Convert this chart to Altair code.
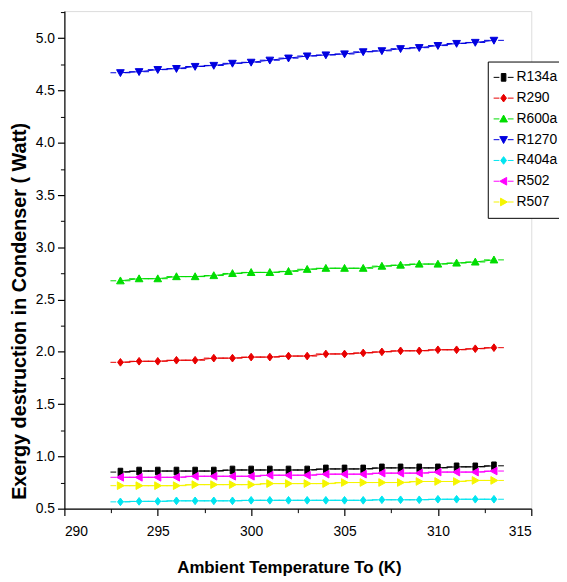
import altair as alt
import pandas as pd

temps = [293, 294, 295, 296, 297, 298, 299, 300, 301, 302, 303,
         304, 305, 306, 307, 308, 309, 310, 311, 312, 313]

series_names = ["R134a", "R290", "R600a", "R1270", "R404a", "R502", "R507"]
series_colors = ["#000000", "#E80000", "#00DD00", "#0000E0", "#00E5F0", "#FF00FF", "#F5F500"]

R134a = [0.85, 0.86, 0.86, 0.86, 0.86, 0.86, 0.87, 0.87, 0.87, 0.87, 0.87,
         0.88, 0.88, 0.88, 0.89, 0.89, 0.89, 0.89, 0.90, 0.90, 0.91]
R290 = [1.90, 1.91, 1.91, 1.92, 1.92, 1.94, 1.94, 1.95, 1.95, 1.96, 1.96,
        1.98, 1.98, 1.99, 2.00, 2.01, 2.01, 2.02, 2.02, 2.03, 2.04]
R600a = [2.68, 2.70, 2.70, 2.72, 2.72, 2.73, 2.75, 2.76, 2.76, 2.77, 2.79,
         2.80, 2.80, 2.80, 2.82, 2.83, 2.84, 2.84, 2.85, 2.86, 2.88]
R1270 = [4.67, 4.68, 4.70, 4.71, 4.73, 4.74, 4.76, 4.77, 4.79, 4.81, 4.83,
         4.84, 4.85, 4.87, 4.88, 4.90, 4.91, 4.93, 4.95, 4.96, 4.98]
R404a = [0.565, 0.57, 0.57, 0.575, 0.575, 0.575, 0.575, 0.58, 0.58, 0.58, 0.58,
         0.58, 0.58, 0.58, 0.585, 0.585, 0.585, 0.59, 0.59, 0.59, 0.59]
R502 = [0.80, 0.80, 0.80, 0.80, 0.81, 0.81, 0.81, 0.81, 0.82, 0.82, 0.82,
        0.83, 0.83, 0.83, 0.84, 0.84, 0.84, 0.85, 0.85, 0.85, 0.86]
R507 = [0.72, 0.72, 0.72, 0.72, 0.73, 0.73, 0.73, 0.73, 0.74, 0.74, 0.74,
        0.74, 0.75, 0.75, 0.75, 0.75, 0.76, 0.76, 0.76, 0.77, 0.77]

x_major = [290, 295, 300, 305, 310, 315]
x_minor = [292.5, 297.5, 302.5, 307.5, 312.5]
y_major = [0.5, 1.0, 1.5, 2.0, 2.5, 3.0, 3.5, 4.0, 4.5, 5.0]
y_minor = [0.75, 1.25, 1.75, 2.25, 2.75, 3.25, 3.75, 4.25, 4.75, 5.25]

# marker paths with short line stubs on either side (Origin-style "-■-")
stub = "M-2.6,0H-1.1M1.1,0H2.6"
shape_paths = [
    "M-0.6,-1H0.6V1H-0.6Z" + stub,          # square
    "M0,-1L0.75,0L0,1L-0.75,0Z" + stub,     # diamond
    "M0,-1L1,0.8L-1,0.8Z" + stub,           # triangle up
    "M0,1L1,-0.8L-1,-0.8Z" + stub,          # triangle down
    "M0,-1L0.75,0L0,1L-0.75,0Z" + stub,     # diamond
    "M-1,0L0.8,-1L0.8,1Z" + stub,           # triangle left
    "M1,0L-0.8,-1L-0.8,1Z" + stub,          # triangle right
]

values = [R134a, R290, R600a, R1270, R404a, R502, R507]
rows = []
for name, vals in zip(series_names, values):
    for t, v in zip(temps, vals):
        rows.append({"T": t, "E": v, "series": name})
df = pd.DataFrame(rows)

narrow = "Liberation Sans Narrow, Arial Narrow, Liberation Sans, Arial"
regular = "Liberation Sans, Arial"

x_scale = alt.Scale(domain=[290, 315], nice=False, zero=False)
y_scale = alt.Scale(domain=[0.5, 5.26], nice=False, zero=False)
col_scale = alt.Scale(domain=series_names, range=series_colors)
shape_scale = alt.Scale(domain=series_names, range=shape_paths)


def make_legend():
    return alt.Legend(
        title=None, orient="none", legendX=428, legendY=51,
        strokeColor="#000000", fillColor="#FFFFFF", padding=9,
        labelFont=regular, labelFontSize=14, labelColor="#000000",
        symbolSize=60, symbolStrokeWidth=1, symbolOffset=0, labelOffset=6,
        rowPadding=7,
    )


base = alt.Chart(df)

lines = base.mark_line(strokeWidth=1).encode(
    x=alt.X("T:Q", scale=x_scale, axis=alt.Axis(
        values=x_minor, orient="bottom", labels=False, domain=False,
        tickSize=4, tickColor="#000000", tickWidth=1, title=None, grid=False)),
    y=alt.Y("E:Q", scale=y_scale, axis=alt.Axis(
        values=y_minor, orient="left", labels=False, domain=False,
        tickSize=4, tickColor="#000000", tickWidth=1, title=None, grid=False)),
    stroke=alt.Stroke("series:N", scale=col_scale, legend=make_legend()),
)

points = base.mark_point(filled=True, opacity=1, size=60, strokeWidth=1).encode(
    x=alt.X("T:Q", scale=x_scale, axis=alt.Axis(
        values=x_major, orient="bottom", format="d", grid=False,
        domainColor="#000000", domainWidth=1.2, tickColor="#000000", tickWidth=1.2,
        tickSize=7, labelPadding=9, labelFont=narrow, labelFontSize=14,
        labelColor="#000000",
        title="Ambient Temperature To (K)", titleFont=narrow, titleFontSize=17,
        titleFontWeight="bold", titleColor="#000000",
        titleBaseline="alphabetic", titleX=227, titleY=65)),
    y=alt.Y("E:Q", scale=y_scale, axis=alt.Axis(
        values=y_major, orient="left", format=".1f", grid=False,
        domainColor="#000000", domainWidth=1.2, tickColor="#000000", tickWidth=1.2,
        tickSize=7, labelPadding=3, labelFont=narrow, labelFontSize=14,
        labelColor="#000000",
        title="Exergy destruction in Condenser ( Watt)", titleFont=regular,
        titleFontSize=20, titleFontWeight="bold", titleColor="#000000",
        titleBaseline="alphabetic", titleAngle=270, titleX=-39, titleY=303)),
    fill=alt.Fill("series:N", scale=col_scale, legend=make_legend()),
    stroke=alt.Stroke("series:N", scale=col_scale, legend=make_legend()),
    shape=alt.Shape("series:N", scale=shape_scale, legend=make_legend()),
)

chart = alt.layer(lines, points).resolve_axis(
    x="independent", y="independent"
).properties(
    width=472, height=503,
    autosize=alt.AutoSizeParams(type="none"),
    padding={"left": 57, "top": 0, "right": 28, "bottom": 70},
).configure_view(stroke=None).configure(background="#FFFFFF")

chart.save("out.html", embed_options={"renderer": "svg", "actions": False})
